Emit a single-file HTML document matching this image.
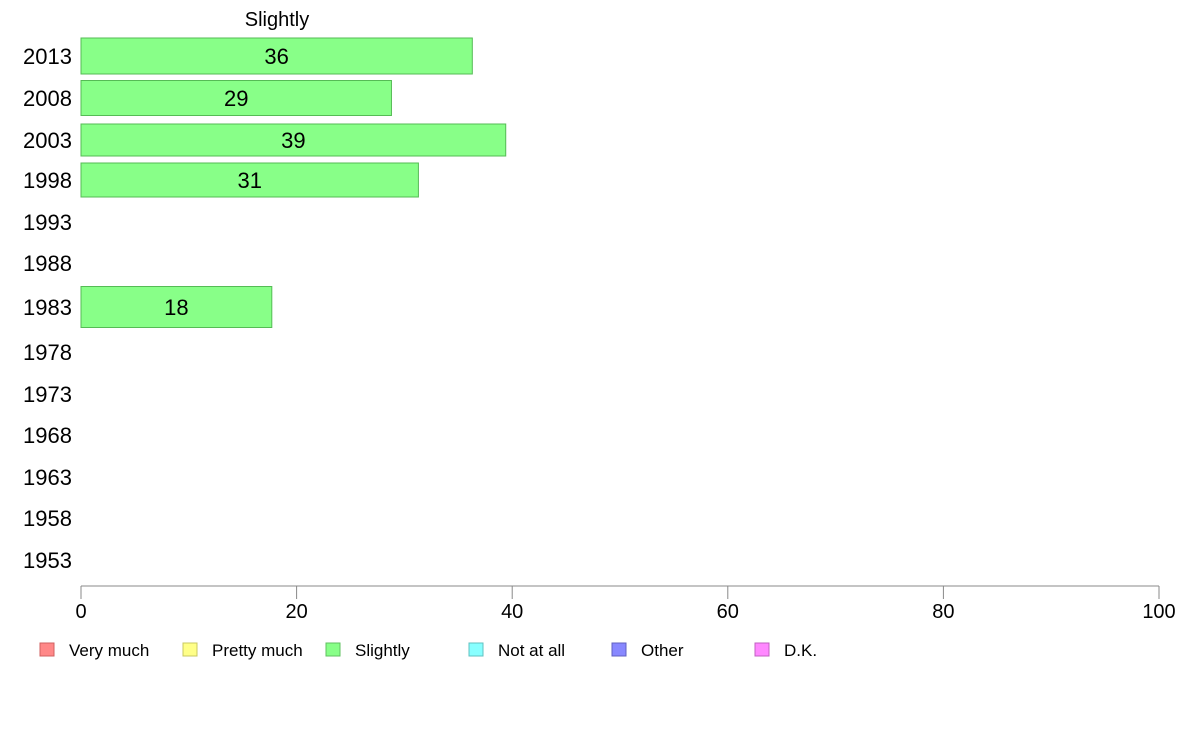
<!DOCTYPE html>
<html><head><meta charset="utf-8"><style>
html,body{margin:0;padding:0;background:#fff;}
svg{display:block;font-family:"Liberation Sans",Arial,sans-serif;}
</style></head><body>
<svg id="chart" width="1188" height="736">
<text x="277" y="26" font-size="20" text-anchor="middle">Slightly</text>
<g id="bars"></g>
<g id="axis"></g>
<g id="legend"></g>
</svg>
<script>
const years=["2013","2008","2003","1998","1993","1988","1983","1978","1973","1968","1963","1958","1953"];
const values=[36.3,28.8,39.4,31.3,null,null,17.7,null,null,null,null,null,null];
const labels=["36","29","39","31","","","18","","","","","",""];
const ticks=[0,20,40,60,80,100];
const legendNames=["Very much","Pretty much","Slightly","Not at all","Other","D.K."];
const legendColors=["#ff8888","#ffff88","#88ff88","#88ffff","#8888ff","#ff88ff"];
const legendStroke=["#d06060","#c8c860","#60c060","#60c0c0","#6060c0","#c060c0"];
const rowCenters=[56,98,140,180,222,263,307,352,394,435,477,518,560];
const rowH=[36,35,32,34,36,36,41,36,36,36,36,36,36];
const NS="http://www.w3.org/2000/svg";
const x0=81,x1=1159;
function xs(v){return x0+(x1-x0)*v/100;}
function mk(t,a,p){const e=document.createElementNS(NS,t);for(const k in a)e.setAttribute(k,a[k]);p.appendChild(e);return e;}
const bars=document.getElementById('bars');
years.forEach((y,i)=>{
  const t=mk('text',{x:72,y:rowCenters[i]+8,'font-size':22,'text-anchor':'end'},bars);
  t.textContent=y;
  
  
  if(values[i]!=null){
    const r=mk('rect',{x:x0,y:rowCenters[i]-rowH[i]/2,width:xs(values[i])-x0,height:rowH[i],fill:'#88ff88',stroke:'#55bb55','stroke-width':1},bars);
    
    
    const l=mk('text',{x:(x0+xs(values[i]))/2,y:rowCenters[i]+8,'font-size':22,'text-anchor':'middle'},bars);
    l.textContent=labels[i];
    
    
  }
});
const ax=document.getElementById('axis');
const al=mk('line',{x1:x0,x2:x1,y1:586,y2:586,stroke:'#888','stroke-width':1},ax);


ticks.forEach(v=>{
  const tl=mk('line',{x1:xs(v),x2:xs(v),y1:586,y2:599,stroke:'#888','stroke-width':1},ax);
  
  
  const tt=mk('text',{x:xs(v),y:618,'font-size':20,'text-anchor':'middle'},ax);
  tt.textContent=v;
  
  
});
const lg=document.getElementById('legend');
legendNames.forEach((n,i)=>{
  const lx=40+i*143;
  const b=mk('rect',{x:lx,y:643,width:14,height:13,fill:legendColors[i],stroke:legendStroke[i]},lg);
  
  
  const t=mk('text',{x:lx+29,y:656,'font-size':17},lg);
  t.textContent=n;
  
  
});
</script>
</body></html>
